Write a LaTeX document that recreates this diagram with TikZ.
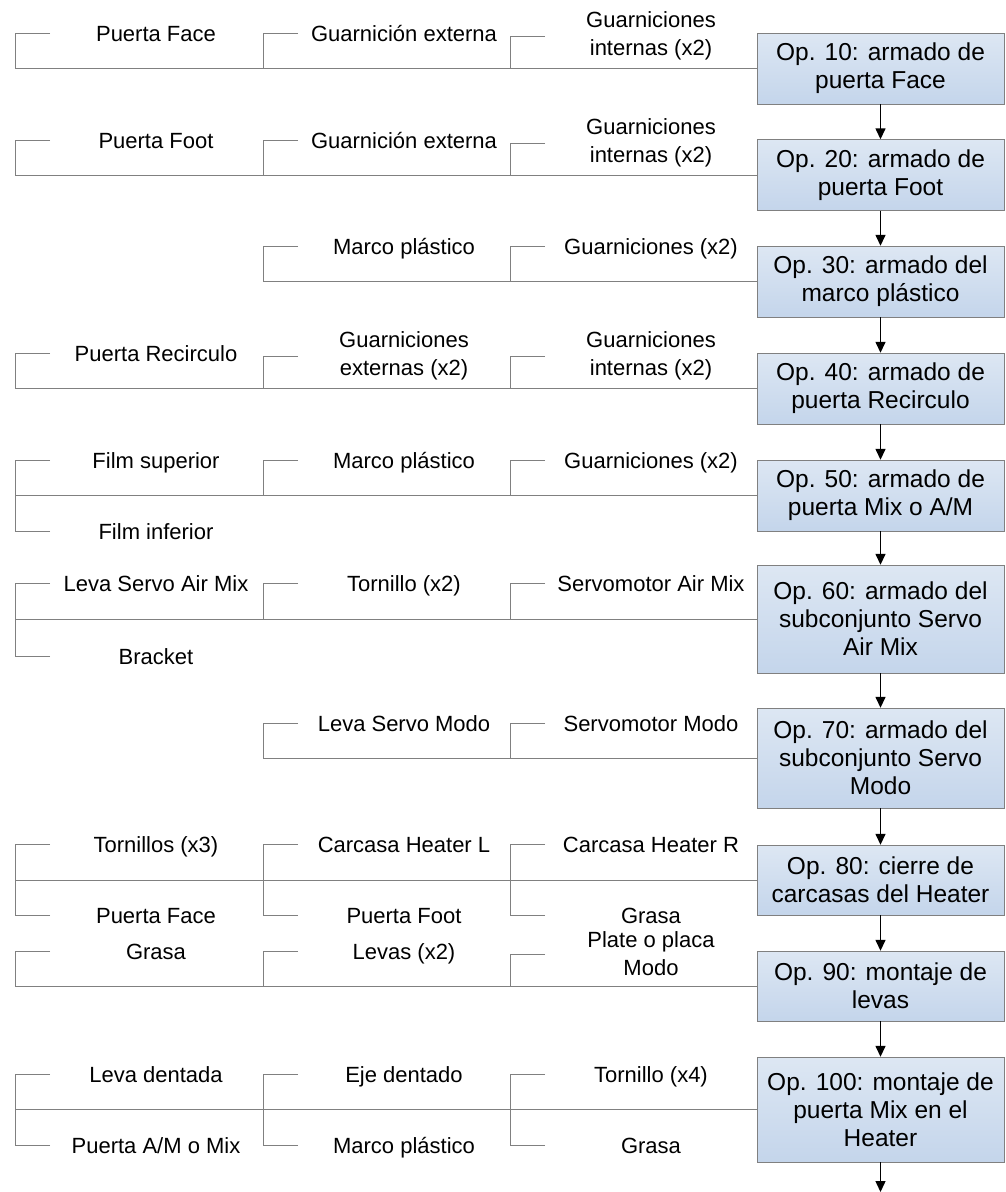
\documentclass[tikz,border=0pt]{standalone}
\usepackage{fontspec}
\setmainfont{Liberation Sans}
\usepackage{tikz}
\usetikzlibrary{arrows.meta}
\definecolor{opTop}{HTML}{DDE7F3}
\definecolor{opBot}{HTML}{C4D5EB}
\definecolor{linkGray}{HTML}{808080}

\begin{document}
\begin{tikzpicture}[x=1pt,y=-1pt,>={Triangle[length=11pt,width=10pt]},
    op/.style={draw=linkGray, top color=opTop, bottom color=opBot,
      minimum width=247pt, minimum height=71pt, align=center, inner sep=2pt,
      font=\fontsize{24.5}{28}\selectfont},
    part/.style={inner sep=1pt, text height=16pt, text depth=0pt,
      font=\fontsize{22}{28}\selectfont},
    part2/.style={align=center, inner sep=1pt, yshift=-3pt,
      font=\fontsize{22}{28}\selectfont},
    link/.style={draw=linkGray, line width=1pt},
    flow/.style={->, line width=1.4pt}]
    \useasboundingbox (0,0) rectangle (1005,1192);

    % operations
    \node[op] (op1) at (880.5,68.5) {Op. 10: armado de\\puerta Face};
    \node[op] (op2) at (880.5,175) {Op. 20: armado de\\puerta Foot};
    \node[op] (op3) at (880.5,281.5) {Op. 30: armado del\\marco plástico};
    \node[op] (op4) at (880.5,388.5) {Op. 40: armado de\\puerta Recirculo};
    \node[op] (op5) at (880.5,495.5) {Op. 50: armado de\\puerta Mix o A/M};
    \node[op, minimum height=108pt] (op6) at (880.5,619) {Op. 60: armado del\\subconjunto Servo\\Air Mix};
    \node[op, minimum height=100pt] (op7) at (880.5,758) {Op. 70: armado del\\subconjunto Servo\\Modo};
    \node[op, minimum height=70pt] (op8) at (880.5,880) {Op. 80: cierre de\\carcasas del Heater};
    \node[op, minimum height=70pt] (op9) at (880.5,986) {Op. 90: montaje de\\levas};
    \node[op, minimum height=105pt] (op10) at (880.5,1109.5) {Op. 100: montaje de\\puerta Mix en el\\Heater};
    \coordinate (out) at (880.5,1192);

    % parts
    \node[part] (a1) at (156,33) {Puerta Face};
    \node[part] (b1) at (404,33) {Guarnición externa};
    \node[part2] (c1) at (651,33) {Guarniciones\\internas (x2)};

    \node[part] (a2) at (156,140) {Puerta Foot};
    \node[part] (b2) at (404,140) {Guarnición externa};
    \node[part2] (c2) at (651,140) {Guarniciones\\internas (x2)};

    \node[part] (b3) at (404,246) {Marco plástico};
    \node[part] (c3) at (651,246) {Guarniciones (x2)};

    \node[part] (a4) at (156,353) {Puerta Recirculo};
    \node[part2] (b4) at (404,353) {Guarniciones\\externas (x2)};
    \node[part2] (c4) at (651,353) {Guarniciones\\internas (x2)};

    \node[part] (a5) at (156,460) {Film superior};
    \node[part] (b5) at (404,460) {Marco plástico};
    \node[part] (c5) at (651,460) {Guarniciones (x2)};
    \node[part] (a5l) at (156,531) {Film inferior};

    \node[part] (a6) at (156,583) {Leva Servo Air Mix};
    \node[part] (b6) at (404,583) {Tornillo (x2)};
    \node[part] (c6) at (651,583) {Servomotor Air Mix};
    \node[part] (a6l) at (156,656) {Bracket};

    \node[part] (b7) at (404,723) {Leva Servo Modo};
    \node[part] (c7) at (651,723) {Servomotor Modo};

    \node[part] (a8) at (156,844) {Tornillos (x3)};
    \node[part] (b8) at (404,844) {Carcasa Heater L};
    \node[part] (c8) at (651,844) {Carcasa Heater R};
    \node[part] (a8l) at (156,915) {Puerta Face};
    \node[part] (b8l) at (404,915) {Puerta Foot};
    \node[part] (c8l) at (651,915) {Grasa};

    \node[part] (a9) at (156,951) {Grasa};
    \node[part] (b9) at (404,951) {Levas (x2)};
    \node[part2] (c9) at (651,951) {Plate o placa\\Modo};

    \node[part] (a10) at (156,1074) {Leva dentada};
    \node[part] (b10) at (404,1074) {Eje dentado};
    \node[part] (c10) at (651,1074) {Tornillo (x4)};
    \node[part] (a10l) at (156,1145) {Puerta A/M o Mix};
    \node[part] (b10l) at (404,1145) {Marco plástico};
    \node[part] (c10l) at (651,1145) {Grasa};

    % brackets into each operation
    \foreach \p/\o in {a1/op1,b1/op1,c1/op1,a2/op2,b2/op2,c2/op2,b3/op3,c3/op3,
        a4/op4,b4/op4,c4/op4,a5/op5,b5/op5,c5/op5,a5l/op5,
        a6/op6,b6/op6,c6/op6,a6l/op6,b7/op7,c7/op7,
        a8/op8,b8/op8,c8/op8,a8l/op8,b8l/op8,c8l/op8,a9/op9,b9/op9,c9/op9,
        a10/op10,b10/op10,c10/op10,a10l/op10,b10l/op10,c10l/op10}
        \draw[link] ([xshift=-106pt]\p.center) -- ++(-35,0) |- (\o.west);

    % flow between operations
    \draw[flow] (op1) -- (op2);
    \draw[flow] (op2) -- (op3);
    \draw[flow] (op3) -- (op4);
    \draw[flow] (op4) -- (op5);
    \draw[flow] (op5) -- (op6);
    \draw[flow] (op6) -- (op7);
    \draw[flow] (op7) -- (op8);
    \draw[flow] (op8) -- (op9);
    \draw[flow] (op9) -- (op10);
    \draw[flow] (op10) -- (out);
\end{tikzpicture}
\end{document}
